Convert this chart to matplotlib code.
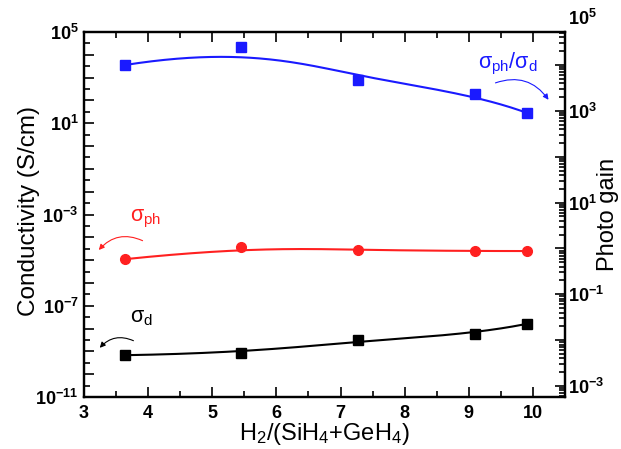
import numpy as np
import matplotlib
matplotlib.use("Agg")
import matplotlib.pyplot as plt
from matplotlib.ticker import FixedLocator, FuncFormatter, LogLocator, NullFormatter, MultipleLocator
import matplotlib.transforms as mtransforms

plt.rcParams['font.family'] = ['Liberation Sans', 'DejaVu Sans']
plt.rcParams['mathtext.fontset'] = 'custom'
plt.rcParams['mathtext.rm'] = 'Liberation Sans'
plt.rcParams['mathtext.it'] = 'Liberation Sans:italic'
plt.rcParams['mathtext.bf'] = 'Liberation Sans:bold'

# ---- data ----
ratio = [3.64, 5.45, 7.27, 9.09, 9.90]
sigma_d = [6.8e-10, 8.3e-10, 3.1e-9, 5.6e-9, 1.6e-8]
sigma_ph = [1.1e-5, 3.7e-5, 2.7e-5, 2.5e-5, 2.5e-5]
photo_gain = [1.0e4, 2.5e4, 4.8e3, 2.35e3, 9.1e2]

x_ticks = [3, 4, 5, 6, 7, 8, 9, 10]
left_label_exps = [5, 1, -3, -7, -11]
right_label_exps = [3, 1, -1, -3]

fig = plt.figure(figsize=(6.21, 4.49), dpi=100)
ax = fig.add_axes([84/621, 1-397/449, 481/621, 365/449])
ax2 = ax.twinx()


def bspline(x, y, k=3, npts=200):
    """Clamped B-spline using the data points as control points (log-y)."""
    P = np.column_stack([np.asarray(x, float), np.log10(np.asarray(y, float))])
    n = len(P)
    inner = np.arange(1, n - k)
    t = np.concatenate([np.zeros(k + 1), inner, np.full(k + 1, n - k)]).astype(float)
    us = np.linspace(0, n - k, npts)
    us[-1] -= 1e-9

    def N(i, p, u):
        if p == 0:
            return 1.0 if t[i] <= u < t[i + 1] else 0.0
        a = 0.0
        if t[i + p] != t[i]:
            a = (u - t[i]) / (t[i + p] - t[i]) * N(i, p - 1, u)
        b = 0.0
        if t[i + p + 1] != t[i + 1]:
            b = (t[i + p + 1] - u) / (t[i + p + 1] - t[i + 1]) * N(i + 1, p - 1, u)
        return a + b

    out = np.array([sum(N(i, k, u) * P[i] for i in range(n)) for u in us])
    return out[:, 0], 10 ** out[:, 1]


xs, ys = bspline(ratio, sigma_d)
ax.plot(xs, ys, color='black', lw=1.5)
ax.plot(ratio, sigma_d, 's', color='black', ms=6.5, ls='none')
xs, ys = bspline(ratio, sigma_ph)
ax.plot(xs, ys, color='#ff2020', lw=1.5)
ax.plot(ratio, sigma_ph, 'o', color='#ff2020', ms=7, ls='none')
xs, ys = bspline(ratio, photo_gain)
ax2.plot(xs, ys, color='#1a1aff', lw=1.5)
ax2.plot(ratio, photo_gain, 's', color='#1a1aff', ms=6.5, ls='none')

ax.set_xlim(3, 10.5)
ax.set_yscale('log')
ax.set_ylim(1e-11, 1e5)
ax2.set_yscale('log')
ax2.set_ylim(10**-3.24, 10**4.72)

ax.xaxis.set_major_locator(FixedLocator(x_ticks))
ax.xaxis.set_minor_locator(MultipleLocator(0.5))
ax.set_xticklabels([str(t) for t in x_ticks], fontweight='bold', fontsize=13)

ax.yaxis.set_major_locator(FixedLocator([10.0**k for k in range(-11, 6)]))
ax.yaxis.set_minor_locator(FixedLocator([10.0**(k+0.5) for k in range(-11, 5)]))
def lfmt(v, pos):
    k = int(round(np.log10(v)))
    return r'$\mathbf{10^{%d}}$' % k if k in left_label_exps else ''
ax.yaxis.set_major_formatter(FuncFormatter(lfmt))
ax.yaxis.set_minor_formatter(NullFormatter())

ax2.yaxis.set_major_locator(FixedLocator([10.0**k for k in range(-4, 6)]))
ax2.yaxis.set_minor_locator(LogLocator(base=10, subs=np.arange(2, 10), numticks=50))
def rfmt(v, pos):
    k = int(round(np.log10(v)))
    return r'$\mathbf{10^{%d}}$' % k if k in right_label_exps else ''
ax2.yaxis.set_major_formatter(FuncFormatter(rfmt))
ax2.yaxis.set_minor_formatter(NullFormatter())

for a in (ax, ax2):
    for s in a.spines.values():
        s.set_linewidth(1.6)
ax.tick_params(axis='x', which='both', direction='in', top=True, labelsize=13, pad=6, width=1.2)
ax.tick_params(axis='x', which='major', length=7)
ax.tick_params(axis='x', which='minor', length=4)
ax.tick_params(axis='y', which='both', direction='in', left=True, right=False, labelsize=13, pad=4, width=1.2)
ax.tick_params(axis='y', which='major', length=7)
ax.tick_params(axis='y', which='minor', length=4)
ax2.tick_params(axis='y', which='both', direction='in', right=True, labelsize=13, pad=2, width=1.2)
ax2.tick_params(axis='y', which='major', length=7)
ax2.tick_params(axis='y', which='minor', length=4)

# extra 10^5 label on the right (beyond the axis range)
trans = mtransforms.blended_transform_factory(ax2.transAxes, ax2.transData)
ax2.text(1.0 + 3/481, 1e5, r'$\mathbf{10^{5}}$', transform=trans, ha='left', va='center',
         fontsize=13, clip_on=False)

ax.set_ylabel('Conductivity (S/cm)', fontsize=17.5)
ax.yaxis.set_label_coords(-0.092, 0.51)
ax2.set_ylabel('Photo gain', fontsize=17)
ax2.yaxis.set_label_coords(1.067, 0.5)
ax.set_xlabel(r'H$_2$/(SiH$_4$+GeH$_4$)', fontsize=17)
ax.xaxis.set_label_coords(0.5, -0.066)

# annotations
ax.text(0.096, 0.482, r'$\mathregular{σ_{ph}}$', transform=ax.transAxes, color='#ff2020',
        fontsize=15.5, va='baseline', ha='left')
ax.annotate('', xy=(0.027, 0.397), xytext=(0.127, 0.425), xycoords='axes fraction',
            textcoords='axes fraction',
            arrowprops=dict(arrowstyle='-|>', color='#ff2020', lw=0.8,
                            connectionstyle='arc3,rad=0.4', mutation_scale=8))
ax.text(0.096, 0.205, r'$\mathregular{σ_{d}}$', transform=ax.transAxes, color='black',
        fontsize=15.5, va='baseline', ha='left')
ax.annotate('', xy=(0.029, 0.129), xytext=(0.108, 0.151), xycoords='axes fraction',
            textcoords='axes fraction',
            arrowprops=dict(arrowstyle='-|>', color='black', lw=0.8,
                            connectionstyle='arc3,rad=0.4', mutation_scale=8))
ax.text(0.819, 0.901, r'$\mathregular{σ_{ph}/σ_{d}}$', transform=ax.transAxes, color='#1a1aff',
        fontsize=15.5, va='baseline', ha='left')
ax.annotate('', xy=(0.969, 0.808), xytext=(0.850, 0.858), xycoords='axes fraction',
            textcoords='axes fraction',
            arrowprops=dict(arrowstyle='-|>', color='#1a1aff', lw=0.8,
                            connectionstyle='arc3,rad=-0.4', mutation_scale=8))

fig.savefig('out.png', dpi=100)
